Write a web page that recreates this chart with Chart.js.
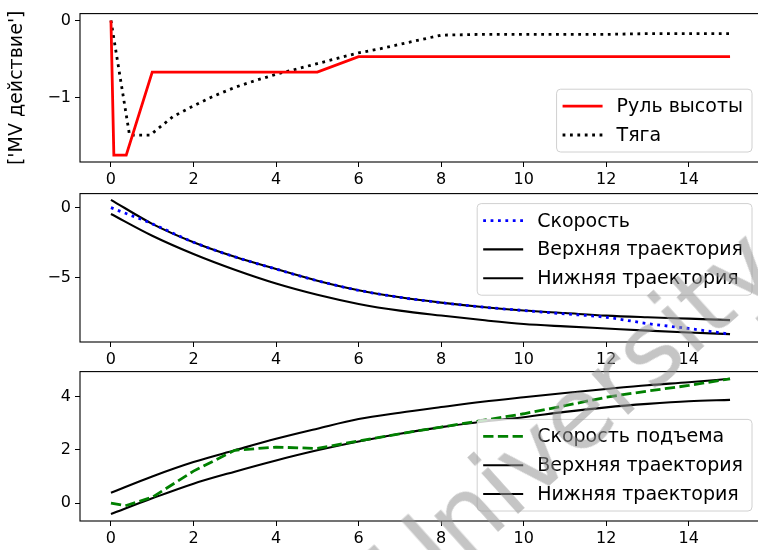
<!DOCTYPE html>
<html>
<head>
<meta charset="utf-8">
<script src="https://cdn.jsdelivr.net/npm/chart.js@4.4.0/dist/chart.umd.min.js"></script>
<style>
  html, body { margin: 0; width: 758px; height: 550px; overflow: hidden; background: #fff; }
  .panel { position: absolute; left: 0; }
  canvas { display: block; }
  #wm {
    position: absolute; left: 410px; top: 612px;
    font: 100px "DejaVu Sans", sans-serif; color: rgba(150,150,150,0.55);
    transform-origin: 0 0; transform: rotate(-42deg) translateY(-80%);
    white-space: nowrap; pointer-events: none;
  }
</style>
</head>
<body>
<div class="panel" style="top:0"><canvas id="c1" width="770" height="200"></canvas></div>
<div class="panel" style="top:180px"><canvas id="c2" width="770" height="200"></canvas></div>
<div class="panel" style="top:358px"><canvas id="c3" width="770" height="192"></canvas></div>
<div id="wm">University</div>
<script>
// ---- data ----
const xTicks = [0, 2, 4, 6, 8, 10, 12, 14];

// panel 1: MV actions
const tElevator = [0, 0.07, 0.37, 1, 5, 6, 15];
const elevator  = [0, -1.75, -1.75, -0.67, -0.67, -0.47, -0.47];
const tThrust = [0, 0.45, 0.95, 1.5, 2, 2.5, 3, 3.5, 4, 4.5, 5, 5.5, 6, 6.5, 7, 7.5, 8, 9, 10, 11, 12, 13, 14, 15];
const thrust  = [0, -1.49, -1.49, -1.25, -1.11, -0.98, -0.87, -0.78, -0.70, -0.63, -0.56, -0.49, -0.42, -0.37, -0.31, -0.25, -0.19, -0.18, -0.18, -0.18, -0.18, -0.17, -0.17, -0.17];
const yTicks1 = [-1, 0];

// panel 2: speed
const tGrid = [0, 1, 2, 3, 4, 5, 6, 7, 8, 9, 10, 11, 12, 13, 14, 15];
const speed      = [0, -1.15, -2.46, -3.5, -4.37, -5.2, -5.88, -6.38, -6.76, -7.07, -7.32, -7.56, -7.8, -8.25, -8.6, -9.0];
const speedUpper = [0.56, -1.15, -2.46, -3.5, -4.37, -5.2, -5.88, -6.38, -6.76, -7.07, -7.32, -7.5, -7.68, -7.8, -7.9, -8.0];
const speedLower = [-0.45, -2.0, -3.3, -4.42, -5.4, -6.2, -6.85, -7.33, -7.68, -8.0, -8.28, -8.45, -8.6, -8.75, -8.88, -9.0];
const yTicks2 = [-5, 0];

// panel 3: climb rate
const tClimb = [0, 0.35, 1, 2, 3, 4, 5, 6, 7, 8, 9, 10, 11, 12, 13, 14, 15];
const climb  = [0, -0.1, 0.22, 1.2, 1.98, 2.1, 2.05, 2.33, 2.6, 2.85, 3.1, 3.35, 3.65, 3.97, 4.2, 4.41, 4.66];
const climbUpper = [0.39, 1.0, 1.54, 1.98, 2.41, 2.79, 3.15, 3.39, 3.6, 3.8, 3.97, 4.13, 4.28, 4.42, 4.53, 4.66];
const climbLower = [-0.41, 0.18, 0.73, 1.18, 1.6, 1.98, 2.31, 2.6, 2.85, 3.05, 3.22, 3.42, 3.59, 3.72, 3.82, 3.87];
const yTicks3 = [0, 2, 4];

const FONT = '"DejaVu Sans", sans-serif';
const pts = (xs, ys) => xs.map((x, i) => ({ x, y: ys[i] }));
const minus = v => String(v).replace('-', '\u2212');

// frame around the plot area (matplotlib spines)
const frame = {
  id: 'frame',
  afterDraw(chart) {
    const { ctx, chartArea: a } = chart;
    ctx.save();
    ctx.strokeStyle = '#000';
    ctx.lineWidth = 1.1;
    ctx.strokeRect(a.left, a.top, a.right - a.left, a.bottom - a.top);
    ctx.restore();
  }
};

// boxed legend inside the axes, like matplotlib
const boxLegend = {
  id: 'boxLegend',
  afterDraw(chart, args, opts) {
    const { ctx, chartArea: a } = chart;
    const items = chart.data.datasets;
    ctx.save();
    ctx.font = '19px ' + FONT;
    const textW = Math.max(...items.map(d => ctx.measureText(d.label).width));
    const rowH = 28.8;
    const w = 60 + textW + 9;
    const h = 34 + rowH * (items.length - 1);
    const x0 = a.right - 9 - w;
    const y0 = opts.where === 'upper' ? a.top + 10 : a.bottom - 10 - h;

    ctx.beginPath();
    ctx.roundRect(x0, y0, w, h, 4);
    ctx.fillStyle = 'rgba(255,255,255,0.8)';
    ctx.fill();
    ctx.strokeStyle = '#d0d0d0';
    ctx.lineWidth = 1;
    ctx.stroke();

    items.forEach((d, i) => {
      const y = y0 + 17 + i * rowH;
      ctx.beginPath();
      ctx.setLineDash(d.borderDash || []);
      ctx.strokeStyle = d.borderColor;
      ctx.lineWidth = d.borderWidth;
      ctx.moveTo(x0 + 6, y);
      ctx.lineTo(x0 + 46, y);
      ctx.stroke();
      ctx.setLineDash([]);
      ctx.fillStyle = '#000';
      ctx.textBaseline = 'middle';
      ctx.fillText(d.label, x0 + 60, y + 1);
    });
    ctx.restore();
  }
};

function makePanel(id, datasets, yMin, yMax, yTicks, xAxisH, padTop, legendWhere, yTitle) {
  return new Chart(document.getElementById(id), {
    type: 'line',
    data: { datasets },
    plugins: [frame, boxLegend],
    options: {
      responsive: false,
      animation: false,
      layout: { padding: { top: padTop, right: 9, left: 0, bottom: 0 } },
      elements: { point: { radius: 0 }, line: { fill: false } },
      plugins: {
        legend: { display: false },
        tooltip: { enabled: false },
        boxLegend: { where: legendWhere }
      },
      scales: {
        x: {
          type: 'linear',
          min: -0.75, max: 15.75,
          afterBuildTicks: s => { s.ticks = xTicks.map(v => ({ value: v })); },
          afterFit: s => { s.height = xAxisH; },
          grid: { drawOnChartArea: false, drawTicks: true, tickLength: 5, color: '#000' },
          border: { display: false },
          ticks: { color: '#000', font: { family: FONT, size: 16 }, padding: 3, maxRotation: 0, callback: minus }
        },
        y: {
          type: 'linear',
          min: yMin, max: yMax,
          afterBuildTicks: s => { s.ticks = yTicks.map(v => ({ value: v })); },
          afterFit: s => { s.width = 80; },
          grid: { drawOnChartArea: false, drawTicks: true, tickLength: 5, color: '#000' },
          border: { display: false },
          ticks: { color: '#000', font: { family: FONT, size: 16 }, padding: 4, callback: minus },
          title: {
            display: !!yTitle, text: yTitle || '',
            color: '#000', font: { family: FONT, size: 19 },
            padding: { top: 6, bottom: 0 }
          }
        }
      }
    }
  });
}

makePanel('c1', [
  { label: 'Руль высоты', data: pts(tElevator, elevator), borderColor: '#ff0000', borderWidth: 2.8 },
  { label: 'Тяга', data: pts(tThrust, thrust), borderColor: '#000', borderWidth: 2.8, borderDash: [2.8, 4.6] }
], -1.84, 0.09, yTicks1, 38, 13, 'lower', "['MV действие']");

makePanel('c2', [
  { label: 'Скорость', data: pts(tGrid, speed), borderColor: '#0000ff', borderWidth: 2.8, borderDash: [2.8, 4.6], cubicInterpolationMode: 'monotone' },
  { label: 'Верхняя траектория', data: pts(tGrid, speedUpper), borderColor: '#000', borderWidth: 2.1, cubicInterpolationMode: 'monotone' },
  { label: 'Нижняя траектория', data: pts(tGrid, speedLower), borderColor: '#000', borderWidth: 2.1, cubicInterpolationMode: 'monotone' }
], -9.56, 1.0, yTicks2, 38, 12, 'upper', null);

makePanel('c3', [
  { label: 'Скорость подъема', data: pts(tClimb, climb), borderColor: '#008000', borderWidth: 2.8, borderDash: [10.3, 4.4] },
  { label: 'Верхняя траектория', data: pts(tGrid, climbUpper), borderColor: '#000', borderWidth: 2.1, cubicInterpolationMode: 'monotone' },
  { label: 'Нижняя траектория', data: pts(tGrid, climbLower), borderColor: '#000', borderWidth: 2.1, cubicInterpolationMode: 'monotone' }
], -0.67, 4.93, yTicks3, 29, 13, 'lower', null);
</script>
</body>
</html>
